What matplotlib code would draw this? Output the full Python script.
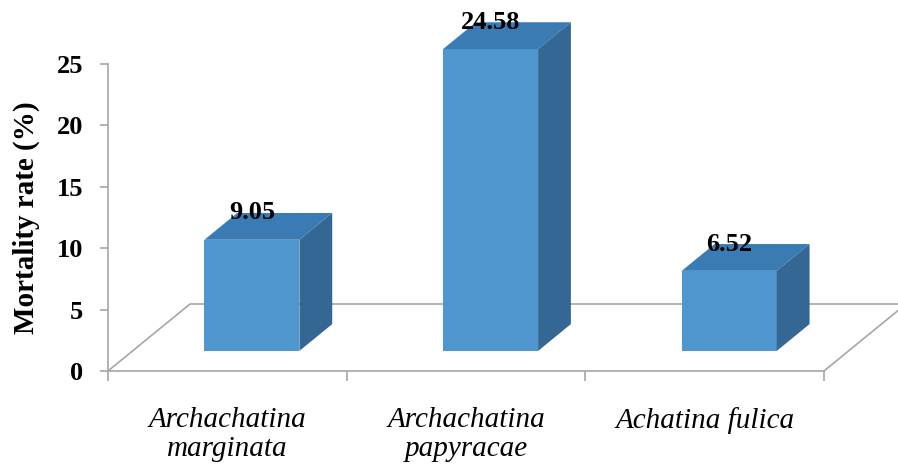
import matplotlib
matplotlib.use("Agg")
import matplotlib.pyplot as plt
from matplotlib.patches import Polygon

# ---- data ----
categories = ["Archachatina\nmarginata", "Archachatina\npapyracae", "Achatina fulica"]
values = [9.05, 24.58, 6.52]
value_labels = ["9.05", "24.58", "6.52"]
y_ticks = [0, 5, 10, 15, 20, 25]
y_label = "Mortality rate (%)"

# ---- styling / geometry ----
W, H = 898, 474
FRONT = "#4F95CE"
TOP = "#3B7BB4"
SIDE = "#346793"
GRID = "#A6A6A6"
SERIF = ["Liberation Serif", "DejaVu Serif"]

fig = plt.figure(figsize=(W / 100, H / 100), dpi=100)
ax = fig.add_axes([108 / W, (H - 371) / H, 716 / W, 307 / H])
n = len(categories)
ax.set_xlim(0, n)
ax.set_ylim(0, 25)

px_x = 716 / n          # pixels per category
px_y = 307 / 25         # pixels per value unit
DX = 82 / px_x          # floor depth offset (category units)
DY = 67 / px_y          # floor depth offset (value units)
f0, f1 = 0.30, 0.70     # bar front/back depth fraction
bw = 95 / px_x          # bar width

# floor
floor = Polygon([(0, 0), (n, 0), (n + DX, DY), (DX, DY)], closed=True,
                facecolor="white", edgecolor=GRID, lw=1.2, clip_on=False, zorder=1)
ax.add_patch(floor)

ddx = (f1 - f0) * DX
ddy = (f1 - f0) * DY
for i, v in enumerate(values):
    xc = i + 0.5 + f0 * DX
    x0, x1 = xc - bw / 2, xc + bw / 2
    y0 = f0 * DY
    y1 = y0 + v
    front = Polygon([(x0, y0), (x1, y0), (x1, y1), (x0, y1)], closed=True,
                    facecolor=FRONT, edgecolor="none", clip_on=False, zorder=3)
    top = Polygon([(x0, y1), (x1, y1), (x1 + ddx, y1 + ddy), (x0 + ddx, y1 + ddy)],
                  closed=True, facecolor=TOP, edgecolor="none", clip_on=False, zorder=3)
    side = Polygon([(x1, y0), (x1 + ddx, y0 + ddy), (x1 + ddx, y1 + ddy), (x1, y1)],
                   closed=True, facecolor=SIDE, edgecolor="none", clip_on=False, zorder=3)
    for p in (front, top, side):
        ax.add_patch(p)
    ax.text(xc, v + f1 * DY, value_labels[i], ha="center", va="center",
            fontsize=19, fontweight="bold", family=SERIF, zorder=5, clip_on=False)

# axes styling
for s in ("top", "right", "bottom"):
    ax.spines[s].set_visible(False)
ax.spines["left"].set_color(GRID)
ax.spines["left"].set_linewidth(1.2)
ax.spines["left"].set_bounds(0, 25)
ax.set_yticks(y_ticks)
ax.set_yticklabels([str(t) for t in y_ticks], fontsize=19, fontweight="bold", family=SERIF)
ax.tick_params(axis="y", direction="out", length=6, width=1.2, color=GRID, pad=12)

ax.set_xticks(range(n + 1))
ax.set_xticklabels([""] * (n + 1))
ax.set_xticks([i + 0.5 for i in range(n)], minor=True)
ax.set_xticklabels(categories, minor=True, fontsize=21, style="italic", family=SERIF,
                   linespacing=1.15)
ax.tick_params(axis="x", which="major", direction="out", length=7, width=1.2, color=GRID)
ax.tick_params(axis="x", which="minor", length=0, pad=26)

ax.set_ylabel(y_label, fontsize=21, fontweight="bold", family=SERIF, labelpad=12)
ax.patch.set_visible(False)

fig.savefig("out.png", dpi=100)
